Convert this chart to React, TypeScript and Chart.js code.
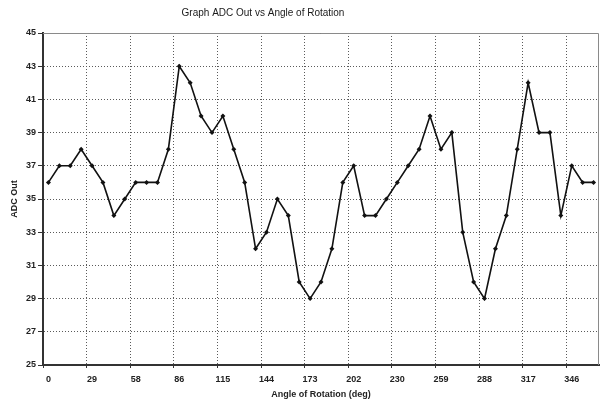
import React, { useEffect, useRef } from 'react';
import { Chart, registerables } from 'chart.js';

Chart.register(...registerables);

const TITLE = 'Graph ADC Out vs Angle of Rotation';
const X_TITLE = 'Angle of Rotation (deg)';
const Y_TITLE = 'ADC Out';

const angles = [
  0, 7.2, 14.4, 21.6, 28.8, 36, 43.2, 50.4, 57.6, 64.8, 72, 79.2, 86.4, 93.6, 100.8, 108, 115.2,
  122.4, 129.6, 136.8, 144, 151.2, 158.4, 165.6, 172.8, 180, 187.2, 194.4, 201.6, 208.8, 216, 223.2,
  230.4, 237.6, 244.8, 252, 259.2, 266.4, 273.6, 280.8, 288, 295.2, 302.4, 309.6, 316.8, 324, 331.2,
  338.4, 345.6, 352.8, 360,
];

const adcOut = [
  36, 37, 37, 38, 37, 36, 34, 35, 36, 36, 36, 38, 43, 42, 40, 39, 40,
  38, 36, 32, 33, 35, 34, 30, 29, 30, 32, 36, 37, 34, 34, 35,
  36, 37, 38, 40, 38, 39, 33, 30, 29, 32, 34, 38, 42, 39, 39,
  34, 37, 36, 36,
];

const xTickLabels = ['0', '29', '58', '86', '115', '144', '173', '202', '230', '259', '288', '317', '346'];

const Y_MIN = 25;
const Y_MAX = 45;
const Y_STEP = 2;
const X_LABEL_EVERY = 4;

const FONT = '"Liberation Sans", Arial, sans-serif';

const titlePlugin = {
  id: 'offsetTitle',
  afterDraw(chart: any) {
    const { ctx, chartArea } = chart;
    ctx.save();
    ctx.font = `10px ${FONT}`;
    ctx.fillStyle = '#1a1a1a';
    ctx.textAlign = 'center';
    ctx.textBaseline = 'middle';
    ctx.fillText(TITLE, chartArea.left + 220, 13);
    ctx.restore();
  },
};

const framePlugin = {
  id: 'frame',
  beforeDatasetsDraw(chart: any) {
    const { ctx, chartArea } = chart;
    ctx.save();
    ctx.strokeStyle = '#8a8a8a';
    ctx.lineWidth = 1;
    ctx.beginPath();
    ctx.moveTo(chartArea.left, chartArea.top + 0.5);
    ctx.lineTo(chartArea.right - 0.5, chartArea.top + 0.5);
    ctx.lineTo(chartArea.right - 0.5, chartArea.bottom);
    ctx.stroke();
    ctx.restore();
  },
};

export default function App() {
  const canvasRef = useRef<HTMLCanvasElement | null>(null);

  useEffect(() => {
    if (!canvasRef.current) return;
    const chart = new Chart(canvasRef.current, {
      type: 'line',
      data: {
        labels: angles.map((a) => String(a)),
        datasets: [
          {
            label: Y_TITLE,
            data: adcOut,
            borderColor: '#111',
            backgroundColor: '#111',
            borderWidth: 1.6,
            pointStyle: 'rectRot',
            pointRadius: 2.5,
            pointBackgroundColor: '#111',
            pointBorderWidth: 0,
            tension: 0,
            fill: false,
          },
        ],
      },
      options: {
        animation: false,
        responsive: true,
        maintainAspectRatio: false,
        layout: { padding: { top: 33, right: 2, bottom: 0, left: 0 } },
        plugins: {
          legend: { display: false },
          title: { display: false },
          tooltip: { enabled: false },
        },
        scales: {
          x: {
            type: 'category',
            offset: true,
            afterFit: (scale: any) => {
              scale.height = 38;
            },
            grid: {
              offset: true,
              color: (ctx: any) => (ctx.index % X_LABEL_EVERY === 0 ? '#5a5a5a' : 'transparent'),
              tickColor: (ctx: any) => (ctx.index % X_LABEL_EVERY === 0 ? '#333' : 'transparent'),
              tickLength: 3,
              lineWidth: 1,
            },
            border: { display: true, color: '#333', width: 2, dash: [1, 2] },
            ticks: {
              autoSkip: false,
              maxRotation: 0,
              padding: 6,
              color: '#222',
              font: { family: FONT, size: 9, weight: 'bold' },
              callback: (_v: any, index: number) =>
                index % X_LABEL_EVERY === 0 ? xTickLabels[index / X_LABEL_EVERY] ?? '' : '',
            },
            title: {
              display: true,
              text: X_TITLE,
              color: '#222',
              font: { family: FONT, size: 9, weight: 'bold' },
              padding: { top: 0, bottom: 3 },
            },
          },
          y: {
            min: Y_MIN,
            max: Y_MAX,
            afterFit: (scale: any) => {
              scale.width = 43;
            },
            grid: {
              color: '#5a5a5a',
              tickColor: '#333',
              tickLength: 5,
              lineWidth: 1,
            },
            border: { display: true, color: '#333', width: 2, dash: [1, 2] },
            ticks: {
              stepSize: Y_STEP,
              padding: 2,
              color: '#222',
              font: { family: FONT, size: 9, weight: 'bold' },
            },
            title: {
              display: true,
              text: Y_TITLE,
              color: '#222',
              font: { family: FONT, size: 9, weight: 'bold' },
              padding: { top: 9, bottom: 0 },
            },
          },
        },
      },
      plugins: [framePlugin, titlePlugin],
    });
    return () => chart.destroy();
  }, []);

  return (
    <div
      style={{
        position: 'fixed',
        left: 0,
        top: 0,
        width: 603,
        height: 403,
        background: '#fff',
      }}
    >
      <canvas ref={canvasRef} />
    </div>
  );
}
